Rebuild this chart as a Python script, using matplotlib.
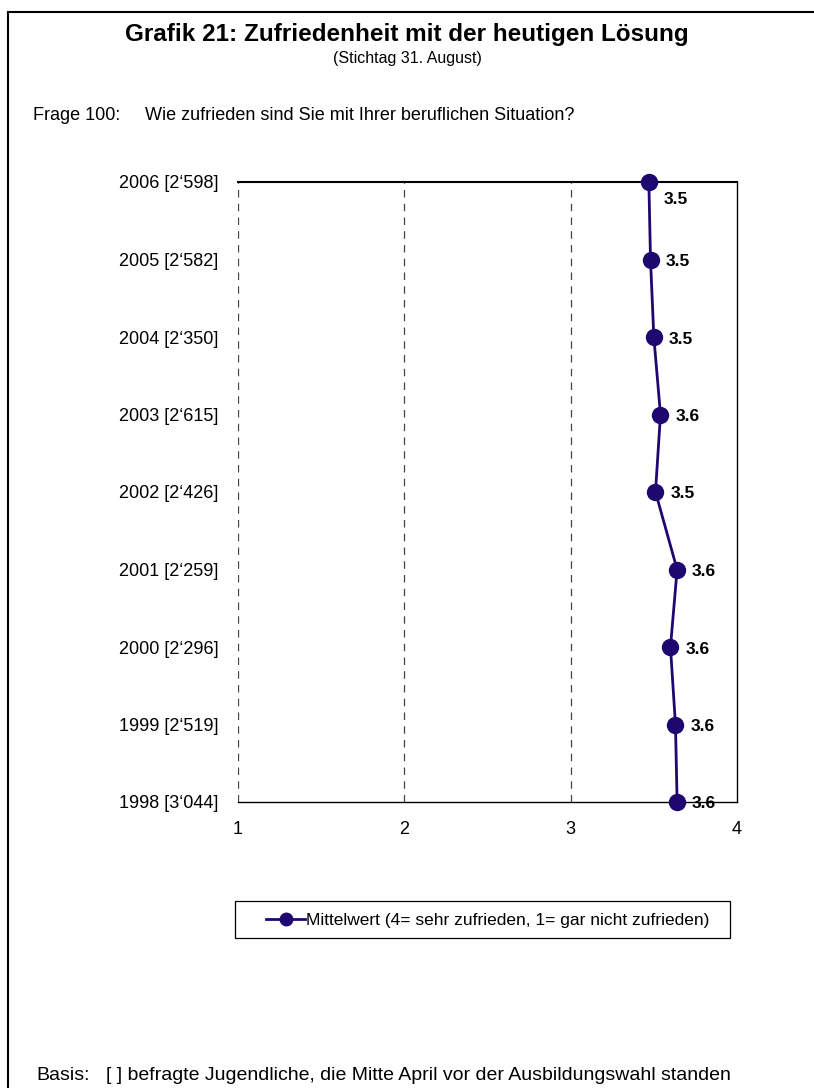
import matplotlib
matplotlib.use("Agg")
import matplotlib.pyplot as plt
from matplotlib.lines import Line2D
from matplotlib.patches import Rectangle

plt.rcParams['font.family'] = ['Liberation Sans', 'DejaVu Sans']

years = ['1998', '1999', '2000', '2001', '2002', '2003', '2004', '2005', '2006']
counts = ['3‘044', '2‘519', '2‘296', '2‘259', '2‘426', '2‘615', '2‘350', '2‘582', '2‘598']
means = [3.64, 3.63, 3.60, 3.64, 3.51, 3.54, 3.50, 3.48, 3.47]
shown = ['3.6', '3.6', '3.6', '3.6', '3.5', '3.6', '3.5', '3.5', '3.5']

col = '#1E0870'
W, H = 814, 1088

fig = plt.figure(figsize=(W / 100, H / 100), dpi=100)

# outer frame
fig.add_artist(Rectangle((8 / W, -0.01), 1.0, 1 - 12 / H + 0.01,
                         transform=fig.transFigure, fill=False,
                         edgecolor='black', linewidth=1.5))

fig.text(0.5, 1 - 34 / H, 'Grafik 21: Zufriedenheit mit der heutigen Lösung',
         ha='center', va='center', fontsize=17.5, fontweight='bold')
fig.text(0.5, 1 - 58 / H, '(Stichtag 31. August)', ha='center', va='center', fontsize=11.5)
fig.text(33 / W, 1 - 115 / H, 'Frage 100:', ha='left', va='center', fontsize=13)
fig.text(145 / W, 1 - 115 / H, 'Wie zufrieden sind Sie mit Ihrer beruflichen Situation?',
         ha='left', va='center', fontsize=13)
fig.text(36 / W, 1 - 1076 / H, 'Basis:', ha='left', va='center', fontsize=14)
fig.text(106 / W, 1 - 1076 / H, '[ ] befragte Jugendliche, die Mitte April vor der Ausbildungswahl standen',
         ha='left', va='center', fontsize=14)

ax = fig.add_axes([238 / W, 1 - 802 / H, 499 / W, 620 / H])
ypos = list(range(len(years)))
ax.set_xlim(1, 4)
ax.set_ylim(0, len(years) - 1)
ax.set_xticks([1, 2, 3, 4])
ax.set_xticklabels(['1', '2', '3', '4'], fontsize=13)
ax.set_yticks(ypos)
ax.set_yticklabels([f'{y} [{c}]' for y, c in zip(years, counts)], fontsize=13)
ax.tick_params(length=0)
ax.tick_params(axis='y', pad=14)
ax.tick_params(axis='x', pad=14)
ax.spines['left'].set_visible(False)
for s in ['right', 'bottom']:
    ax.spines[s].set_linewidth(1.0)
ax.spines['top'].set_linewidth(1.5)
for xv in [1, 2, 3]:
    ax.axvline(xv, color='#444444', linewidth=0.9, linestyle=(0, (6, 5)), zorder=1)

ax.plot(means, ypos, color=col, linewidth=2, marker='o', markersize=11.5,
        clip_on=False, zorder=5)
for i, (m, s) in enumerate(zip(means, shown)):
    dy = -17 if i == len(years) - 1 else -2
    ax.annotate(s, (m, ypos[i]), xytext=(15, dy), textcoords='offset pixels',
                ha='left', va='center', fontsize=12.5, fontweight='bold', zorder=6)

# legend with a hand-drawn box
fig.add_artist(Rectangle((235 / W, 1 - 938 / H), 495 / W, 37 / H,
                         transform=fig.transFigure, fill=False,
                         edgecolor='black', linewidth=0.9))
handle = Line2D([], [], color=col, linewidth=2, marker='o', markersize=9)
fig.legend([handle], ['Mittelwert (4= sehr zufrieden, 1= gar nicht zufrieden)'],
           loc='center left', bbox_to_anchor=(266 / W, 1 - 920 / H),
           fontsize=12.5, frameon=False, handlelength=2.25, handletextpad=0.05,
           borderpad=0, borderaxespad=0)

fig.savefig('out.png', dpi=100)
